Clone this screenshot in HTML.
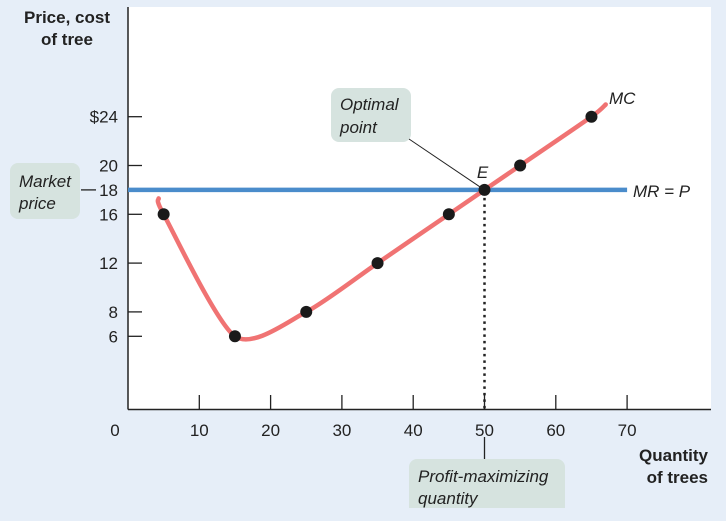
<!DOCTYPE html>
<html><head><meta charset="utf-8"><style>
body{margin:0;background:#e6eef8;}
svg{display:block;font-family:"Liberation Sans",sans-serif;}
</style></head><body>
<svg id="c" width="726" height="521" viewBox="0 0 726 521">
<rect x="0" y="0" width="726" height="521" fill="#e6eef8"/>
<rect x="128" y="7" width="583" height="402" fill="#fff"/>
<g id="axes"></g>
<g id="marks"></g>
</svg>
<script>
const xTicks=[10,20,30,40,50,60,70];
const yTicks=[24,20,18,16,12,8,6];
const yTickLabels=["$24","20","18","16","12","8","6"];
const qty=[5,15,25,35,45,50,55,65];
const mc=[16,6,8,12,16,18,20,24];
const curveStart=[4.3,17.3];
const curveEnd=[67,25];
const price=18;
const priceEndQty=70;
const optimalQty=50;
const X=v=>128+v*7.13, Y=v=>409.5-v*12.2;
const NS="http://www.w3.org/2000/svg";
const svg=document.getElementById('c'),ax=document.getElementById('axes'),mk=document.getElementById('marks');
function el(t,a,p,txt){const e=document.createElementNS(NS,t);for(const k in a)e.setAttribute(k,a[k]);if(txt!==undefined)e.textContent=txt;p.appendChild(e);return e;}
let e=el('line',{x1:128,y1:7,x2:128,y2:409.5,stroke:'#222','stroke-width':1.5},ax);


e=el('line',{x1:128,y1:409.5,x2:711,y2:409.5,stroke:'#222','stroke-width':1.5},ax);


xTicks.forEach(v=>{
 let t=el('line',{x1:X(v),y1:395,x2:X(v),y2:409.5,stroke:'#222','stroke-width':1.3},ax);
 
 
 let l=el('text',{x:X(v),y:436,'text-anchor':'middle','font-size':17,fill:'#222'},ax,String(v));
 
 
});
e=el('text',{x:115,y:436,'text-anchor':'middle','font-size':17,fill:'#222'},ax,'0');


yTicks.forEach((v,i)=>{
 if(v!==18){let t=el('line',{x1:128,y1:Y(v),x2:142,y2:Y(v),stroke:'#222','stroke-width':1.3},ax);
 
 }
 let l=el('text',{x:118,y:Y(v)+6,'text-anchor':'end','font-size':17,fill:'#222'},ax,yTickLabels[i]);
 
 
});
e=el('text',{x:67,y:23,'text-anchor':'middle','font-size':17,'font-weight':'bold',fill:'#222'},ax,'Price, cost');


e=el('text',{x:67,y:45,'text-anchor':'middle','font-size':17,'font-weight':'bold',fill:'#222'},ax,'of tree');


e=el('text',{x:708,y:461,'text-anchor':'end','font-size':17,'font-weight':'bold',fill:'#222'},ax,'Quantity');


e=el('text',{x:708,y:483,'text-anchor':'end','font-size':17,'font-weight':'bold',fill:'#222'},ax,'of trees');


e=el('rect',{x:10,y:163,width:70,height:56,rx:8,fill:'#d6e3df'},ax);


e=el('text',{x:19,y:187,'font-size':17,'font-style':'italic',fill:'#222'},ax,'Market');


e=el('text',{x:19,y:209,'font-size':17,'font-style':'italic',fill:'#222'},ax,'price');


e=el('line',{x1:81,y1:Y(price),x2:96,y2:Y(price),stroke:'#222','stroke-width':1.3},ax);


e=el('line',{x1:128,y1:Y(price),x2:X(priceEndQty),y2:Y(price),stroke:'#4a8ccb','stroke-width':4.5},mk);


e=el('text',{x:633,y:Y(price)+7,'font-size':17,'font-style':'italic',fill:'#222'},mk,'MR = P');


const pts=[curveStart].concat(qty.map((q,i)=>[q,mc[i]])).concat([curveEnd]).map(p=>[X(p[0]),Y(p[1])]);
let d='M'+pts[0][0]+','+pts[0][1];
const k=8;
for(let i=0;i<pts.length-1;i++){
 const p0=pts[Math.max(0,i-1)],p1=pts[i],p2=pts[i+1],p3=pts[Math.min(pts.length-1,i+2)];
 d+=' C'+(p1[0]+(p2[0]-p0[0])/k)+','+(p1[1]+(p2[1]-p0[1])/k)+' '+(p2[0]-(p3[0]-p1[0])/k)+','+(p2[1]-(p3[1]-p1[1])/k)+' '+p2[0]+','+p2[1];
}
e=el('path',{d:d,fill:'none',stroke:'#f07373','stroke-width':4.5,'stroke-linecap':'round'},mk);


e=el('text',{x:609,y:104,'font-size':17,'font-style':'italic',fill:'#222'},mk,'MC');


e=el('line',{x1:X(optimalQty),y1:Y(price)+8,x2:X(optimalQty),y2:409,stroke:'#222','stroke-width':2.5,'stroke-dasharray':'2.5,4'},mk);


qty.forEach((q,i)=>{
 let c=el('circle',{cx:X(q),cy:Y(mc[i]),r:6,fill:'#1a1a1a'},mk);
 
 
});
e=el('text',{x:X(optimalQty)-2,y:Y(price)-12,'text-anchor':'middle','font-size':17,'font-style':'italic',fill:'#222'},mk,'E');


e=el('rect',{x:331,y:88,width:80,height:54,rx:8,fill:'#d6e3df'},mk);


e=el('text',{x:340,y:110,'font-size':17,'font-style':'italic',fill:'#222'},mk,'Optimal');


e=el('text',{x:340,y:133,'font-size':17,'font-style':'italic',fill:'#222'},mk,'point');


e=el('line',{x1:409,y1:139,x2:X(optimalQty)-3,y2:Y(price)-2,stroke:'#222','stroke-width':1},mk);


e=el('line',{x1:X(optimalQty),y1:437,x2:X(optimalQty),y2:459,stroke:'#222','stroke-width':1.3},mk);


e=el('path',{d:'M409,508 V467 a8,8 0 0 1 8,-8 H557 a8,8 0 0 1 8,8 V508 Z',fill:'#d6e3df'},mk);


e=el('text',{x:418,y:482,'font-size':17,'font-style':'italic',fill:'#222'},mk,'Profit-maximizing');


e=el('text',{x:418,y:504,'font-size':17,'font-style':'italic',fill:'#222'},mk,'quantity');


</script>
</body></html>
